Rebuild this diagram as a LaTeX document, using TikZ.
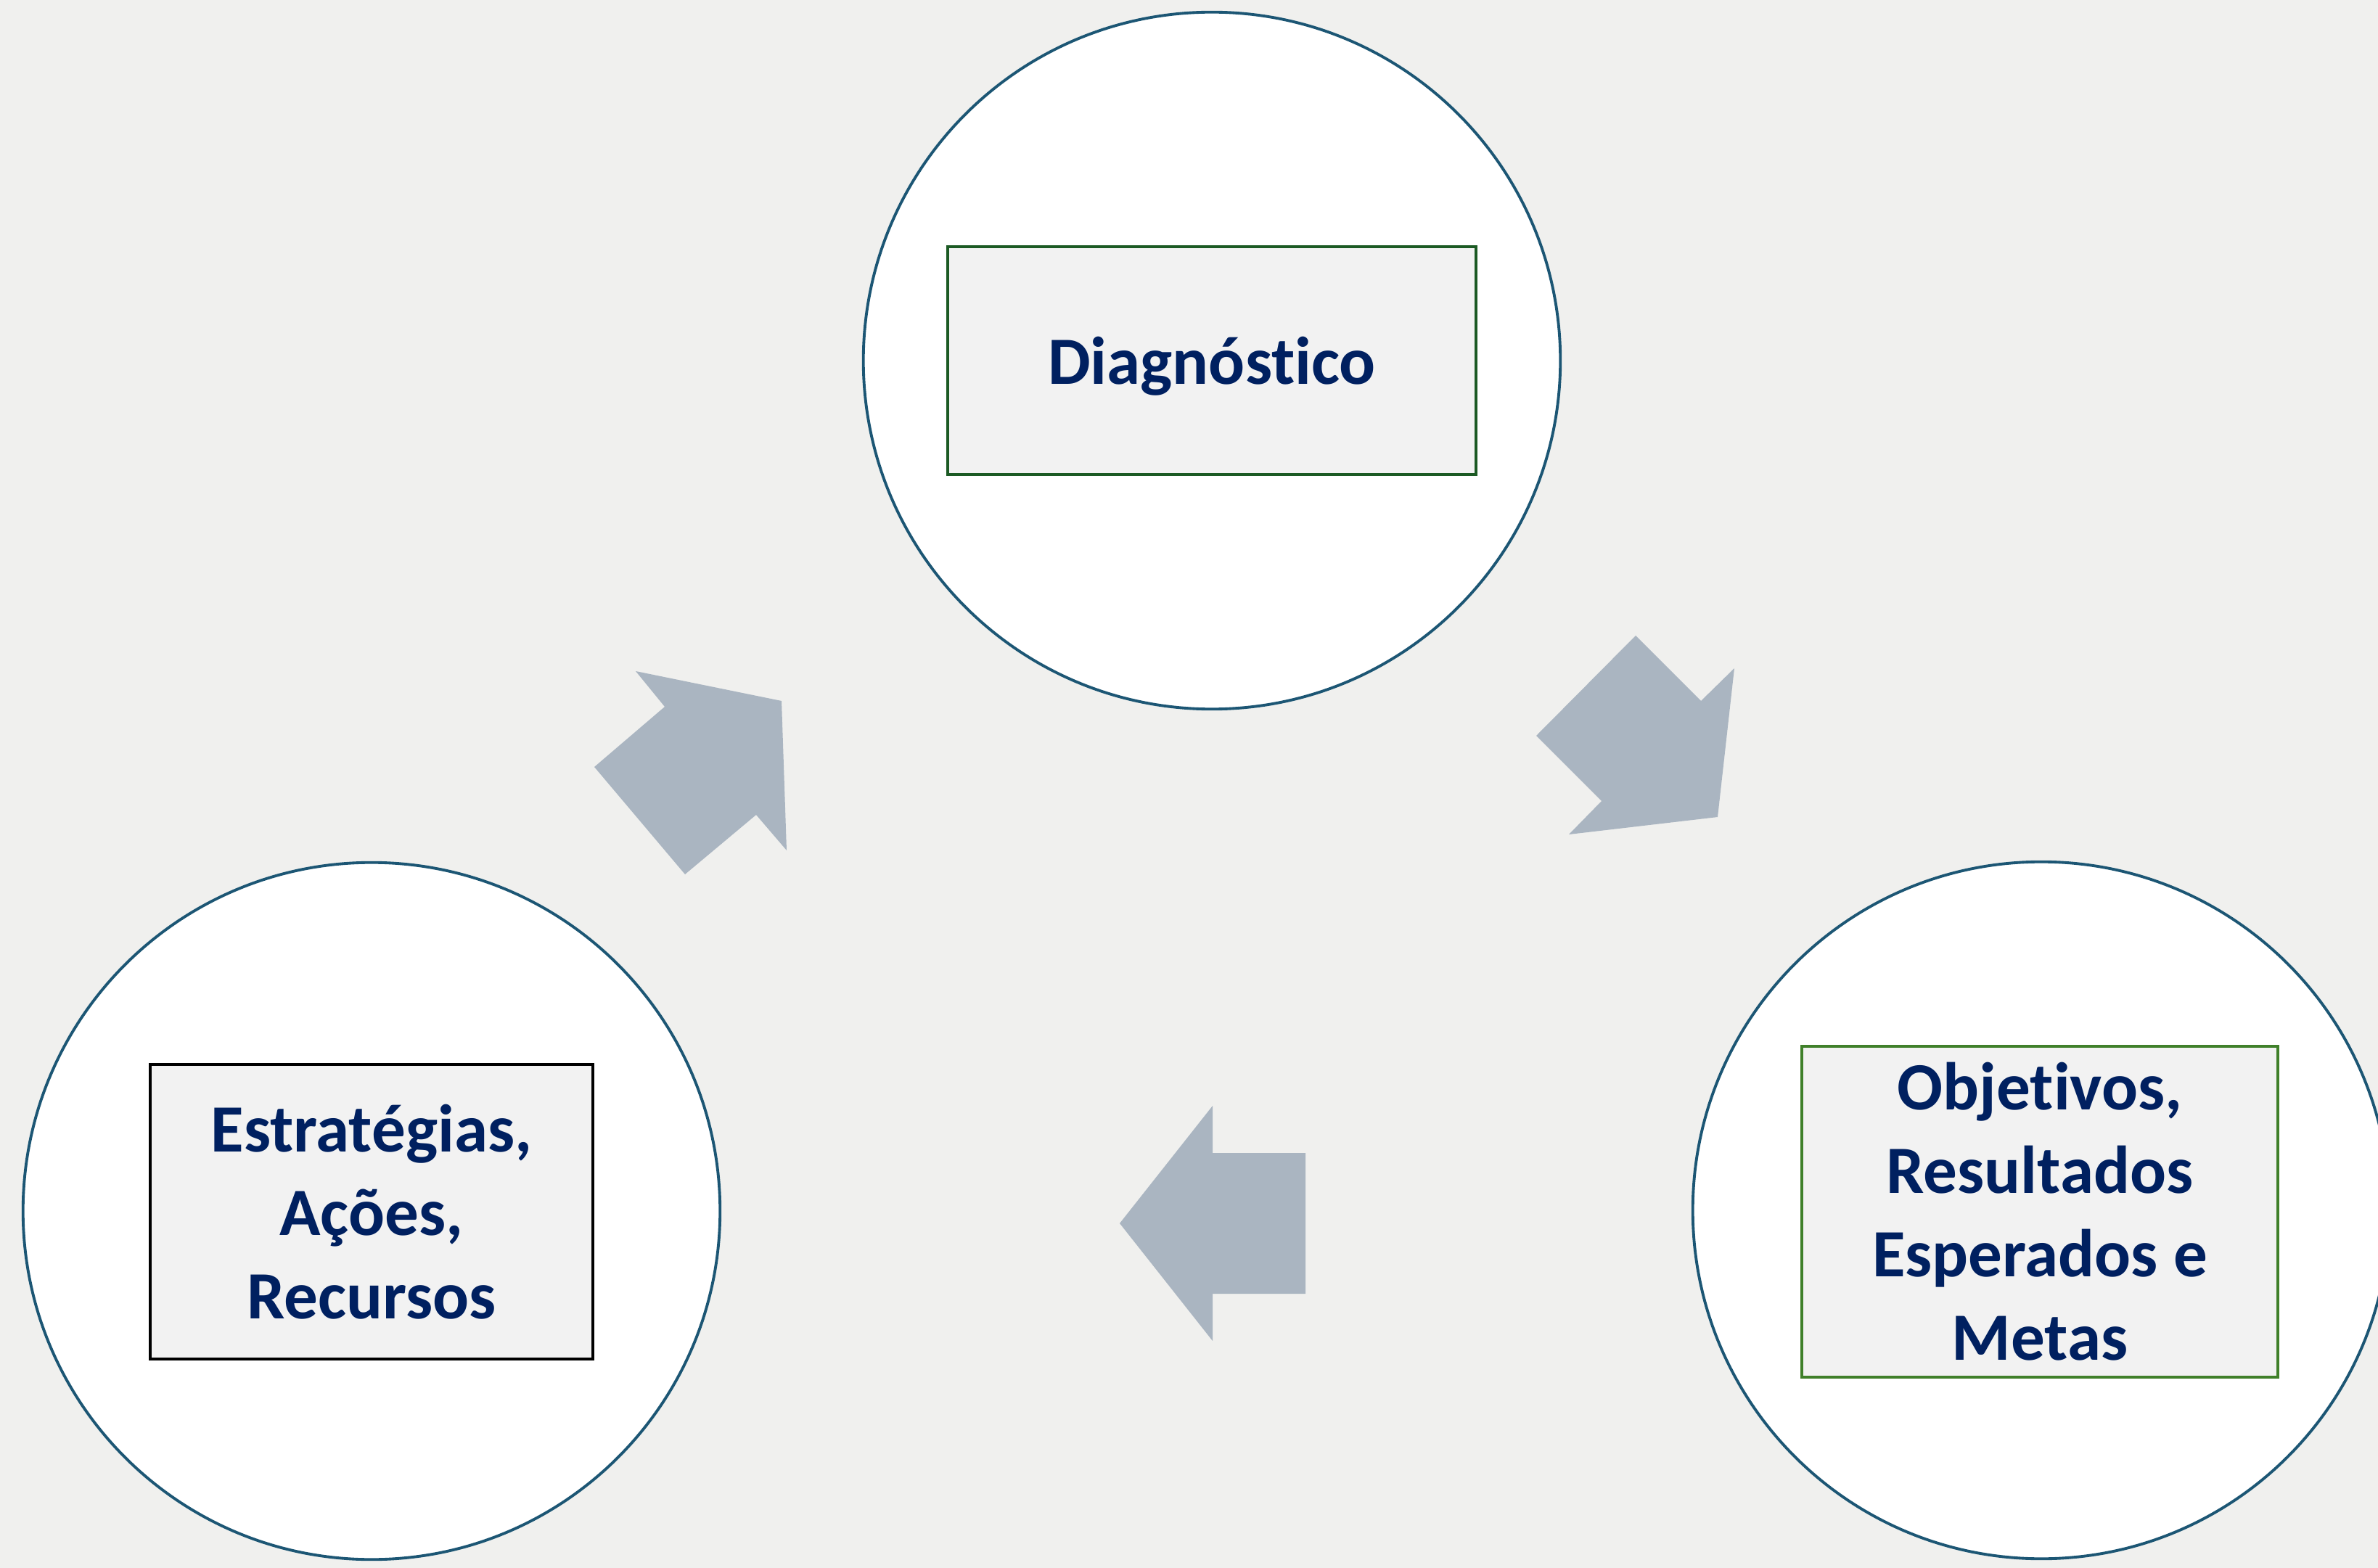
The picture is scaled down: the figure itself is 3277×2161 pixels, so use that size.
\documentclass[tikz,border=0pt]{standalone}
\usepackage{fontspec}
\setmainfont[Ligatures=NoCommon]{Carlito}
\usepackage{tikz}

\definecolor{bgc}{RGB}{240,240,238}
\definecolor{boxfill}{RGB}{242,242,242}
\definecolor{ringc}{RGB}{28,86,116}
\definecolor{darkgr}{RGB}{28,90,36}
\definecolor{lightgr}{RGB}{64,128,42}
\definecolor{navy}{RGB}{0,32,96}
\definecolor{arrowc}{RGB}{170,181,193}

\begin{document}
\begin{tikzpicture}[x=0.01cm,y=-0.01cm]
\tikzstyle{every node}+=[inner sep=0pt]
\tikzstyle{ring}=[circle,draw=ringc,fill=white,line width=1.1pt,minimum size=9.6cm]
\tikzstyle{label}=[rectangle,fill=boxfill,line width=1.1pt,align=center,text=navy,
  font=\bfseries\fontsize{26.5}{32.7}\selectfont]
\tikzstyle{blockarrow}=[fill=arrowc]
\fill [bgc] (0,0) rectangle (3277,2161);
\useasboundingbox (0,0) rectangle (3277,2161);
\node [ring] (diagring) at (1670,497) {};
\node [ring] (metasring) at (2813,1668) {};
\node [ring] (acoesring) at (512,1669) {};
\node [label,draw=darkgr,minimum width=7.28cm,minimum height=3.13cm,text depth=0pt] (diag) at (diagring) {Diagnóstico};
\node [label,draw=lightgr,minimum width=6.56cm,minimum height=4.56cm] (metas) at (2811,1670) {Objetivos,\\Resultados\\Esperados e\\Metas};
\node [label,draw=black,minimum width=6.10cm,minimum height=4.06cm] (acoes) at (512,1670) {Estratégias,\\Ações,\\Recursos};
\fill [blockarrow] (819,1057) -- (916,974) -- (876,925) -- (1077,966) -- (1084,1172) -- (1042,1123) -- (944,1205) -- cycle;
\fill [blockarrow] (2117,1014) -- (2254,876) -- (2344,966) -- (2390,921) -- (2367,1126) -- (2162,1150) -- (2207,1104) -- cycle;
\fill [blockarrow] (1799,1589) -- (1671,1589) -- (1671,1524) -- (1543,1686) -- (1671,1848) -- (1671,1783) -- (1799,1783) -- cycle;
\end{tikzpicture}
\end{document}
